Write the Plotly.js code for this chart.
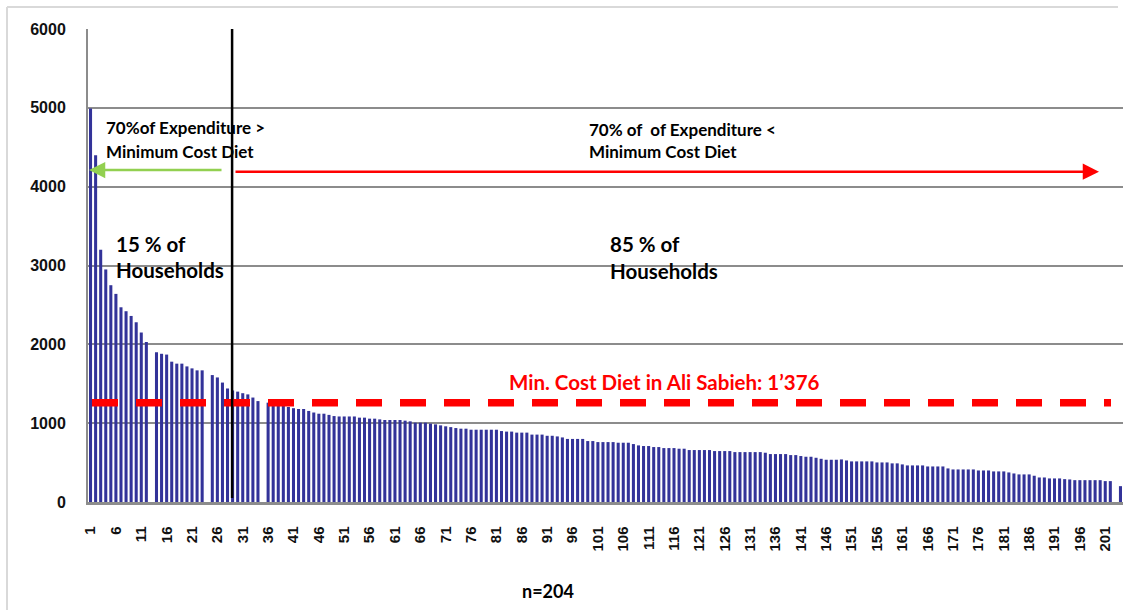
<!DOCTYPE html>
<html>
<head>
<meta charset="utf-8">
<script src="https://cdn.plot.ly/plotly-3.0.1.min.js"></script>
<style>
  html, body { margin: 0; padding: 0; background: #ffffff; }
  #chart { width: 1128px; height: 610px; }
</style>
</head>
<body>
<div id="chart"></div>
<script>
// ---- data ----
const households = Array.from({length: 204}, (_, i) => i + 1);
const expenditure = [
  4990,4400,3200,2950,2750,2640,2470,2420,2360,2280,
  2150,2030,null,1900,1880,1870,1780,1755,1755,1720,
  1695,1670,1670,null,1610,1580,1515,1440,1415,1400,
  1380,1365,1325,1280,null,1260,1240,1230,1230,1205,
  1190,1180,1180,1155,1135,1120,1120,1105,1090,1085,
  1085,1085,1085,1070,1070,1057,1057,1048,1040,1040,
  1040,1040,1032,1023,1006,1006,1006,994,985,972,
  960,950,938,930,930,917,917,917,917,917,
  917,900,893,893,880,880,880,855,855,855,
  840,840,832,819,800,800,800,800,773,773,
  760,760,760,760,752,752,752,735,718,710,
  710,697,697,684,684,684,676,676,659,659,
  659,659,659,646,646,646,646,633,633,633,
  633,633,633,625,608,608,608,608,595,595,
  583,574,574,561,548,536,536,536,540,527,
  515,515,515,515,515,502,502,502,490,490,
  477,464,464,464,464,451,451,451,451,426,
  413,413,413,413,413,400,400,400,388,388,
  388,375,362,350,350,350,333,311,311,299,
  299,299,290,286,277,277,277,277,277,277,
  265,265,null,201
];
const xTickValues = [1,6,11,16,21,26,31,36,41,46,51,56,61,66,71,76,81,86,91,96,101,106,111,116,121,126,131,136,141,146,151,156,161,166,171,176,181,186,191,196,201];
const xTickLabels = ['1','6','11','16','21','26','31','36','41','46','51','56','61','66','71','76','81','86','91','96','101','106','111','116','121','126','131','136','141','146','151','156','161','166','171','176','181','186','191','196','201'];
const yTickValues = [0,1000,2000,3000,4000,5000,6000];
const yTickLabels = ['0','1000','2000','3000','4000','5000','6000'];
const minCostDietLevel = 1260;          // drawn level of the dashed line
const minCostDietLabel = 'Min. Cost Diet in Ali Sabieh: 1\u2019376';
const splitHousehold = 28.9;            // vertical divider (15% / 85%)
const arrowLevel = 4200;
const nLabel = 'n=204';

// ---- geometry helpers (layout only) ----
const W = 1128, H = 610;
const L = 88, R = 5, T = 29, B = 107.5;
const PW = W - L - R, PH = H - T - B;
const XMIN = 0.5, XMAX = 204.5, YMAX = 6000;
const dx = px => XMIN + (px - L) / PW * (XMAX - XMIN);
const px2paper = px => (px - L) / PW;
const py2paper = py => (H - B - py) / PH;

const bold = (size, color) => ({family: 'Lato, "Open Sans", sans-serif', size: size, color: color || '#000', weight: 'bold'});

function label(text, px, py, size, color, xanchor) {
  return {
    text: text, xref: 'paper', yref: 'paper',
    x: px2paper(px), y: py2paper(py),
    xanchor: xanchor || 'left', yanchor: 'middle',
    showarrow: false, font: bold(size, color)
  };
}

const trace = {
  type: 'bar',
  x: households,
  y: expenditure,
  marker: {color: '#333399', line: {width: 0}},
  hoverinfo: 'x+y'
};

const tickFont = size => ({family: '"Liberation Sans", Arial, sans-serif', size: size, color: '#111', weight: 'bold'});

const layout = {
  width: W, height: H,
  margin: {l: L, r: R, t: T, b: B, pad: 0},
  paper_bgcolor: '#ffffff',
  plot_bgcolor: '#ffffff',
  showlegend: false,
  bargap: 0.4,
  xaxis: {
    range: [XMIN, XMAX],
    tickmode: 'array', tickvals: xTickValues, ticktext: xTickLabels,
    tickangle: -90,
    tickfont: tickFont(15),
    ticks: '', ticklabelstandoff: 16,
    showgrid: false, zeroline: false,
    showline: true, linecolor: '#8c8c8c', linewidth: 2.5
  },
  yaxis: {
    range: [0, YMAX],
    tickmode: 'array', tickvals: yTickValues, ticktext: yTickLabels,
    tickfont: tickFont(16),
    ticks: '', ticklabelstandoff: 17,
    showgrid: true, gridcolor: '#8c8c8c', gridwidth: 2,
    zeroline: false,
    showline: true, linecolor: '#8c8c8c', linewidth: 2
  },
  shapes: [
    // outer light frame
    {type: 'line', xref: 'paper', yref: 'paper', x0: px2paper(7), x1: px2paper(1118), y0: py2paper(7), y1: py2paper(7), line: {color: '#d9d9d9', width: 2}},
    {type: 'line', xref: 'paper', yref: 'paper', x0: px2paper(7), x1: px2paper(7), y0: py2paper(7), y1: py2paper(612), line: {color: '#d9d9d9', width: 2}},
    // dashed minimum cost diet line
    {type: 'line', xref: 'x', yref: 'y', x0: dx(92), x1: dx(1111), y0: minCostDietLevel, y1: minCostDietLevel,
     line: {color: '#ff0000', width: 7.5, dash: '26px,18px'}, layer: 'above'},
    // vertical divider
    {type: 'line', xref: 'x', yref: 'y', x0: splitHousehold, x1: splitHousehold, y0: 50, y1: YMAX,
     line: {color: '#000000', width: 2.5}, layer: 'above'}
  ],
  annotations: [
    label('70%of Expenditure >', 104, 128, 17),
    label('Minimum Cost Diet', 104, 152, 17),
    label('70% of \u00a0of Expenditure <', 587, 130, 17),
    label('Minimum Cost Diet', 587, 152, 17),
    label('15 % of', 114, 244, 20.5),
    label('Households', 114, 270, 20.5),
    label('85 % of', 608, 244, 20.5),
    label('Households', 608, 271, 20.5),
    label(minCostDietLabel, 664, 382, 20.5, '#ff0000', 'center'),
    label(nLabel, 548, 592, 18, '#000', 'center'),
    // green arrow (left)
    {x: dx(89), y: arrowLevel + 10, xref: 'x', yref: 'y', ax: dx(223), ay: arrowLevel + 10, axref: 'x', ayref: 'y',
     text: '', showarrow: true, arrowhead: 2, arrowsize: 1.3, arrowwidth: 2.5, arrowcolor: '#92d050', standoff: 0},
    // red arrow (right)
    {x: dx(1099), y: arrowLevel - 10, xref: 'x', yref: 'y', ax: dx(234), ay: arrowLevel - 10, axref: 'x', ayref: 'y',
     text: '', showarrow: true, arrowhead: 2, arrowsize: 1.3, arrowwidth: 2.5, arrowcolor: '#ff0000', standoff: 0}
  ]
};

Plotly.newPlot('chart', [trace], layout, {displayModeBar: false, staticPlot: true});
</script>
</body>
</html>
